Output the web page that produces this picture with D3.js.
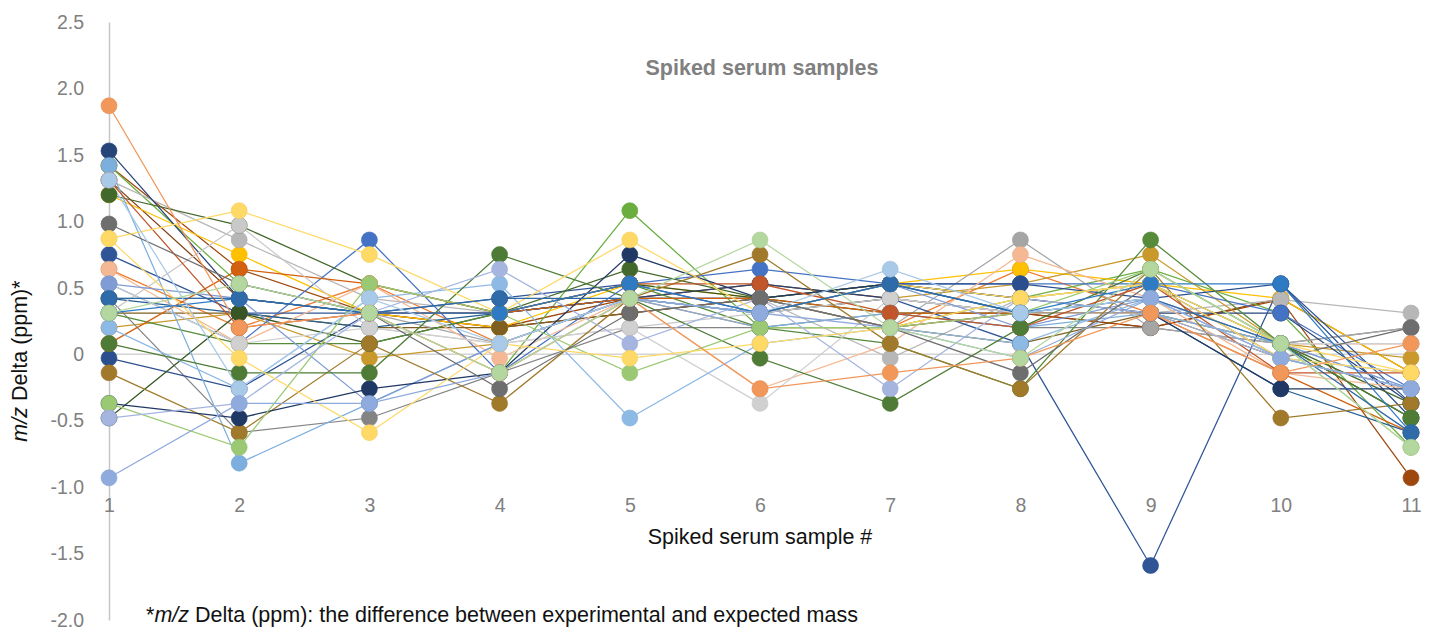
<!DOCTYPE html>
<html>
<head>
<meta charset="utf-8">
<script src="https://cdn.jsdelivr.net/npm/d3@7"></script>
<style>
  html, body { margin: 0; padding: 0; background: #ffffff; }
  svg { display: block; font-family: "Liberation Sans", Arial, Helvetica, sans-serif; }
</style>
</head>
<body>
<svg id="chart" width="1440" height="631"></svg>
<script>
// ---------- data ----------
const samples = [1, 2, 3, 4, 5, 6, 7, 8, 9, 10, 11];
const yTickValues = [2.5, 2.0, 1.5, 1.0, 0.5, 0, -0.5, -1.0, -1.5, -2.0];
const yTickLabels = ["2.5", "2.0", "1.5", "1.0", "0.5", "0", "-0.5", "-1.0", "-1.5", "-2.0"];
const chartTitle = "Spiked serum samples";
const xTitle = "Spiked serum sample #";

// series values (m/z delta, ppm) at samples 1..11, in drawing order
const br2    = [1.31, 0.42, 0.31, 0.20, 0.31, 0.42, 0.20, 0.31, 0.20, 0.42, -0.14];
const or2    = [0.64, 0.20, 0.53, 0.08, 0.42, 0.20, 0.20, 0.64, 0.31, 0.08, 0.08];
const br1    = [1.42, 0.64, 0.31, 0.20, 0.42, 0.53, 0.42, 0.31, 0.20, 0.41, -0.93];
const gn1    = [1.42, 0.53, 0.31, -0.14, 1.08, 0.20, 0.20, 0.42, 0.64, 0.31, -0.70];
const g1     = [1.20, 0.75, 0.31, 0.20, 0.53, 0.42, 0.53, 0.64, 0.53, 0.42, -0.14];
const gr3    = [1.31, 0.86, 0.42, 0.31, 0.42, 0.42, -0.03, 0.42, 0.31, 0.41, 0.31];
const d3s    = [0.31, 0.31, 0.20, 0.20, 0.31, 0.42, 0.20, 0.08, 0.31, -0.03, -0.26];
const d2     = [0.20, 0.31, -0.03, 0.08, 0.42, 0.31, 0.42, 0.53, 0.75, 0.08, -0.03];
const gr4    = [0.42, -0.59, -0.48, -0.14, 0.20, 0.20, 0.31, 0.20, 0.20, 0.08, 0.20];
const gr5    = [0.42, 0.42, 0.31, 0.08, 0.42, 0.42, 0.20, 0.86, 0.20, 0.08, 0.20];
const bnavy1 = [1.53, 0.42, 0.31, 0.31, 0.42, 0.53, 0.42, 0.31, 0.31, 0.31, -0.37];
const bb2a   = [0.75, 0.31, 0.31, 0.42, 0.53, 0.31, 0.42, 0.08, -1.59, 0.53, -0.37];
const bdark  = [0.42, 0.31, 0.20, 0.31, 0.42, 0.31, 0.53, 0.31, 0.31, -0.26, -0.59];
const bblue1 = [0.53, 0.08, 0.86, -0.14, 0.53, 0.64, 0.53, 0.53, 0.53, 0.31, -0.26];
const bb2b   = [-0.03, -0.26, 0.31, 0.31, 0.42, 0.42, 0.53, 0.53, 0.42, 0.53, -0.48];
const gd1    = [1.20, 0.97, 0.53, 0.31, 0.64, 0.42, 0.53, 0.42, 0.53, 0.08, -0.37];
const gd2    = [-0.48, 0.31, 0.08, 0.31, 0.53, 0.42, 0.31, 0.31, 0.31, 0.08, -0.48];
const gn2    = [0.31, 0.08, 0.08, 0.31, 0.53, 0.20, 0.08, -0.26, 0.86, 0.08, -0.48];
const or1    = [0.08, 0.64, 0.53, 0.31, 0.42, 0.42, 0.31, 0.31, 0.31, -0.14, -0.59];
const pe1    = [0.64, 0.08, 0.53, -0.03, 0.42, -0.26, 0.08, 0.75, 0.42, -0.14, -0.26];
const gr2    = [0.31, 0.97, 0.20, 0.08, 0.20, 0.31, 0.42, 0.31, 0.42, 0.08, 0.08];
const gr6    = [0.53, 0.08, 0.20, 0.08, 0.20, -0.37, 0.42, 0.31, 0.31, 0.08, 0.08];
const lblue  = [1.42, -0.82, -0.37, 0.08, 0.42, 0.20, 0.31, 0.20, 0.31, 0.08, -0.26];
const p3     = [0.53, 0.42, -0.37, 0.08, 0.42, 0.31, 0.53, 0.20, 0.42, 0.08, -0.26];
const lb2    = [0.20, -0.26, 0.42, 0.53, -0.48, 0.08, 0.20, 0.08, 0.42, -0.03, -0.14];
const d1     = [-0.14, -0.59, 0.08, -0.37, 0.42, 0.75, 0.08, -0.26, 0.64, -0.48, -0.37];
const bnavy2 = [-0.37, -0.48, -0.26, -0.14, 0.75, 0.42, 0.53, 0.42, 0.31, -0.26, -0.26];
const bo1    = [1.31, 0.20, 0.31, 0.31, 0.53, 0.53, 0.31, 0.20, 0.53, -0.14, -0.14];
const gm1    = [0.08, -0.14, -0.14, 0.75, 0.42, -0.03, -0.37, 0.20, 0.64, 0.08, -0.48];
const lg1    = [-0.37, -0.70, 0.53, 0.31, -0.14, 0.20, 0.20, 0.31, 0.64, 0.08, -0.70];
const p2     = [-0.48, -0.37, 0.31, 0.64, 0.08, 0.42, -0.26, 0.42, 0.31, -0.03, -0.26];
const gr1    = [0.98, 0.53, 0.31, -0.26, 0.31, 0.42, 0.20, -0.14, 0.53, -0.03, 0.20];
const y2     = [0.87, 1.08, 0.75, 0.31, 0.86, 0.31, 0.53, 0.42, 0.53, -0.03, -0.14];
const y1     = [0.87, -0.03, -0.59, 0.08, -0.03, 0.08, 0.20, 0.42, 0.53, 0.08, -0.14];
const bsky   = [0.31, 0.42, 0.31, 0.31, 0.53, 0.31, 0.53, 0.31, 0.53, 0.53, -0.59];
const bmid   = [0.42, 0.42, 0.31, 0.42, 0.42, 0.31, 0.53, 0.31, 0.42, 0.08, -0.59];
const pb1    = [1.31, -0.26, 0.42, 0.08, 0.42, 0.31, 0.64, 0.31, 0.42, -0.03, -0.26];
const p1     = [-0.93, -0.37, -0.37, -0.14, 0.42, 0.31, 0.20, -0.03, 0.42, -0.03, -0.26];
const sa1    = [1.87, 0.20, 0.31, -0.14, 0.42, -0.26, -0.14, -0.03, 0.31, -0.14, 0.08];
const pg1    = [0.31, 0.53, 0.31, -0.14, 0.42, 0.86, 0.20, -0.03, 0.64, 0.08, -0.70];

const seriesValues = [br2, or2, br1, gn1, g1, gr3, d3s, d2, gr4, gr5, bnavy1, bb2a, bdark, bblue1, bb2b,
  gd1, gd2, gn2, or1, pe1, gr2, gr6, lblue, p3, lb2, d1, bnavy2, bo1, gm1, lg1, p2, gr1, y2, y1,
  bsky, bmid, pb1, p1, sa1, pg1];

const seriesColors = ["#843C0C", "#ED7D31", "#9E480E", "#6AAE40", "#FFC000", "#B7B7B7", "#7F5F1F", "#C9992C",
  "#848484", "#A5A5A5", "#264478", "#2F5597", "#255E91", "#4472C4", "#2B4F8E",
  "#43682B", "#375623", "#568B3A", "#D2600F", "#F4B994", "#C9C9C9", "#D0D0D0", "#7CAFDD", "#7F9CD4",
  "#8DB9E5", "#A07A2A", "#203864", "#C0562A", "#4E7C36", "#9BC973", "#A5B5E0", "#6E6E6E", "#FFD966",
  "#FFD966", "#2E7BC4", "#2E6BA8", "#A9C9E8", "#8FAADC", "#F1975A", "#B4D79F"];

// ---------- layout ----------
const svg = d3.select("#chart");
const x = d3.scaleLinear().domain([1, 11]).range([109, 1411]);
const y = d3.scaleLinear().domain([-2, 2.5]).range([620, 22]);
const font = '"Liberation Sans", Arial, Helvetica, sans-serif';

// zero line
svg.append("line")
  .attr("x1", x(1)).attr("x2", x(11))
  .attr("y1", y(0)).attr("y2", y(0))
  .attr("stroke", "#d4d4d4").attr("stroke-width", 1.5);

// y axis
const yAxis = d3.axisLeft(y)
  .tickValues(yTickValues)
  .tickFormat((d, i) => yTickLabels[i])
  .tickSize(0).tickSizeOuter(0).tickPadding(25);
const gy = svg.append("g").attr("transform", `translate(${x(1)},0)`).call(yAxis);
gy.select(".domain").attr("stroke", "#c6c6c6").attr("stroke-width", 1.5);
gy.selectAll("text").attr("fill", "#808080").style("font-size", "19.5px").style("font-family", font);

// x axis labels
const xAxis = d3.axisBottom(x).tickValues(samples).tickFormat(d3.format("d")).tickSize(0).tickPadding(0);
const gx = svg.append("g").attr("transform", "translate(0,498)").call(xAxis);
gx.select(".domain").remove();
gx.selectAll("text").attr("fill", "#808080").style("font-size", "19.5px").style("font-family", font);

// lines
const line = d3.line().x((d, i) => x(samples[i])).y(d => y(d));
svg.append("g").selectAll("path")
  .data(seriesValues)
  .join("path")
  .attr("d", d => line(d))
  .attr("fill", "none")
  .attr("stroke", (d, i) => seriesColors[i])
  .attr("stroke-width", 1.25);

// markers
const mg = svg.append("g");
seriesValues.forEach((vals, si) => {
  mg.append("g").selectAll("circle")
    .data(vals)
    .join("circle")
    .attr("cx", (d, i) => x(samples[i]))
    .attr("cy", d => y(d))
    .attr("r", 8)
    .attr("fill", seriesColors[si])
    .attr("stroke", d3.color(seriesColors[si]).darker(0.15))
    .attr("stroke-width", 0.6);
});

// titles
svg.append("text")
  .attr("x", 762).attr("y", 75)
  .attr("text-anchor", "middle")
  .attr("fill", "#808080")
  .style("font-size", "21.5px").style("font-weight", "bold").style("font-family", font)
  .text(chartTitle);

svg.append("text")
  .attr("x", 760).attr("y", 544)
  .attr("text-anchor", "middle")
  .attr("fill", "#111")
  .style("font-size", "21.5px").style("font-family", font)
  .text(xTitle);

const yt = svg.append("text")
  .attr("transform", "translate(27,361) rotate(-90)")
  .attr("text-anchor", "middle")
  .attr("fill", "#111")
  .style("font-size", "21.5px").style("font-family", font);
yt.append("tspan").style("font-style", "italic").text("m/z");
yt.append("tspan").text(" Delta (ppm)*");

const fn = svg.append("text")
  .attr("x", 146).attr("y", 622)
  .attr("fill", "#111")
  .style("font-size", "21.5px").style("font-family", font);
fn.append("tspan").text("*");
fn.append("tspan").style("font-style", "italic").text("m/z");
fn.append("tspan").text(" Delta (ppm): the difference between experimental and expected mass");
</script>
</body>
</html>
